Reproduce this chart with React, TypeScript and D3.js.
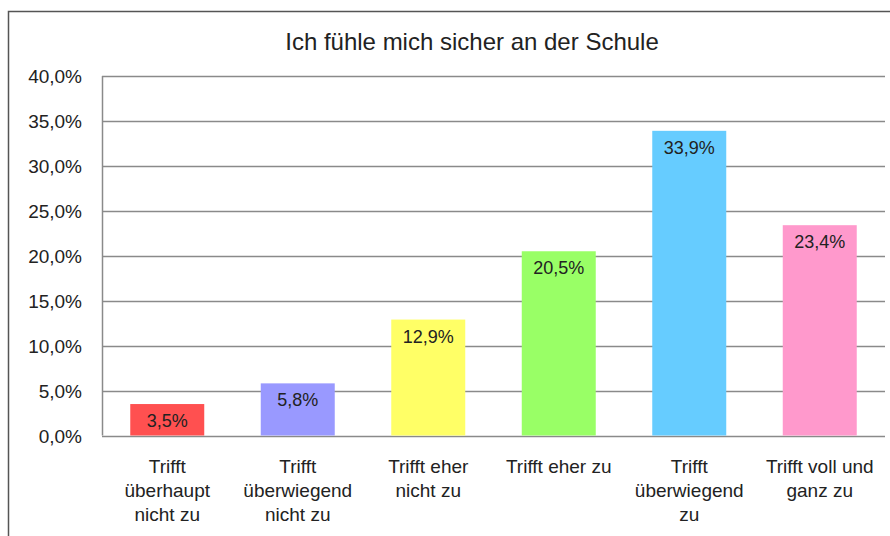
import React from "react";
import * as d3 from "d3";

const categories: string[][] = [
  ["Trifft", "überhaupt", "nicht zu"],
  ["Trifft", "überwiegend", "nicht zu"],
  ["Trifft eher", "nicht zu"],
  ["Trifft eher zu"],
  ["Trifft", "überwiegend", "zu"],
  ["Trifft voll und", "ganz zu"],
];
const values: number[] = [3.5, 5.8, 12.9, 20.5, 33.9, 23.4];
const colors: string[] = ["#FF5050", "#9999FF", "#FFFF66", "#99FF66", "#66CCFF", "#FF99CC"];
const yTicks: number[] = [0, 5, 10, 15, 20, 25, 30, 35, 40];
const title = "Ich fühle mich sicher an der Schule";

const W = 890;
const H = 536;
const plot = { left: 102, right: 885, top: 76, bottom: 435.5 };
const FONT = "'Liberation Sans', Arial, sans-serif";

const fmt = (v: number) => v.toFixed(1).replace(".", ",") + "%";

export default function App() {
  const x = d3
    .scaleBand<number>()
    .domain(values.map((_, i) => i))
    .range([plot.left, plot.right])
    .paddingInner(0.433)
    .paddingOuter(0.2165);
  const y = d3.scaleLinear().domain([0, 40]).range([plot.bottom, plot.top]);

  return (
    <svg
      width={W}
      height={H}
      style={{ position: "absolute", left: 0, top: 0, background: "#fff" }}
      fontFamily={FONT}
    >
      <rect x={0} y={0} width={W} height={H} fill="#fff" />
      <rect x={8.5} y={11.5} width={W + 10} height={H + 10} fill="none" stroke="#555" strokeWidth={1.5} />
      <text x={472} y={50} textAnchor="middle" fontSize={24} fill="#222">
        {title}
      </text>
      {yTicks.map((t) => (
        <g key={t}>
          <line
            x1={plot.left}
            x2={plot.right}
            y1={Math.round(y(t)) + 0.5}
            y2={Math.round(y(t)) + 0.5}
            stroke="#8a8a8a"
            strokeWidth={1.5}
          />
          <text x={82} y={y(t) + 7} textAnchor="end" fontSize={19} fill="#222">
            {fmt(t)}
          </text>
        </g>
      ))}
      <line
        x1={plot.left + 0.5}
        x2={plot.left + 0.5}
        y1={plot.top}
        y2={plot.bottom}
        stroke="#8a8a8a"
        strokeWidth={1.5}
      />
      {values.map((v, i) => (
        <g key={i}>
          <rect
            x={x(i)!}
            y={y(v)}
            width={x.bandwidth()}
            height={plot.bottom - y(v)}
            fill={colors[i]}
          />
          <text
            x={x(i)! + x.bandwidth() / 2}
            y={y(v) + 23}
            textAnchor="middle"
            fontSize={18}
            fill="#222"
          >
            {fmt(v)}
          </text>
          {categories[i].map((line, j) => (
            <text
              key={j}
              x={x(i)! + x.bandwidth() / 2}
              y={473 + j * 24}
              textAnchor="middle"
              fontSize={19}
              fill="#222"
            >
              {line}
            </text>
          ))}
        </g>
      ))}
    </svg>
  );
}
